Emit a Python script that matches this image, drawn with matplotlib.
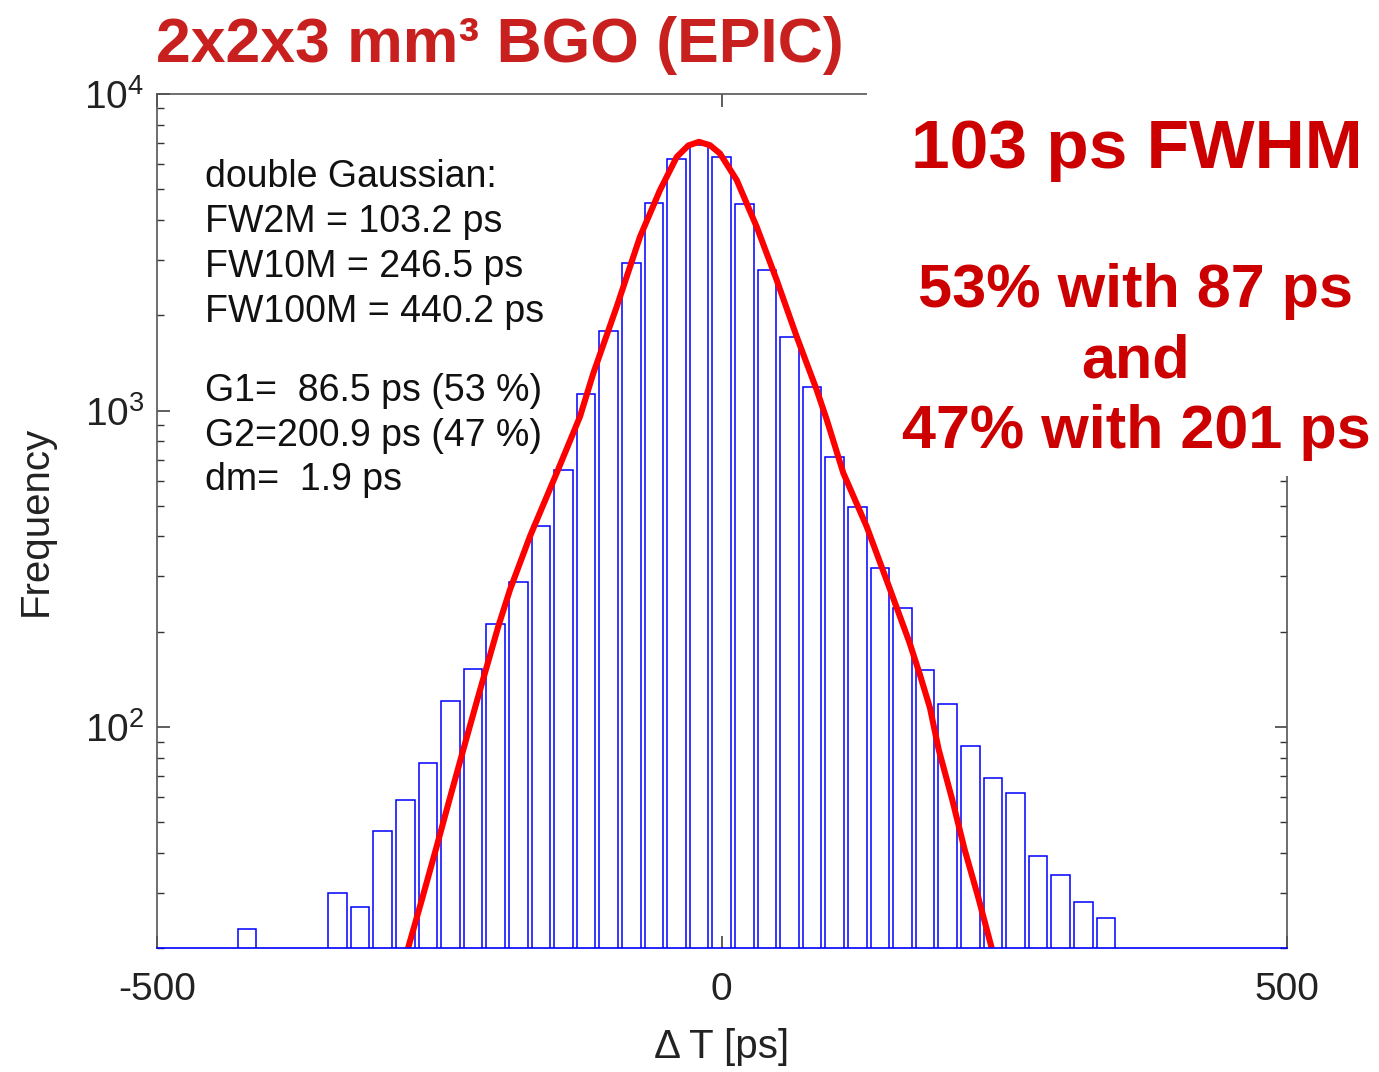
import numpy as np
import matplotlib
matplotlib.use('Agg')
import matplotlib.pyplot as plt
from matplotlib.patches import Rectangle
from matplotlib.ticker import LogLocator, NullFormatter

plt.rcParams['font.family'] = ['Liberation Sans', 'DejaVu Sans']
plt.rcParams['mathtext.fontset'] = 'custom'
plt.rcParams['mathtext.rm'] = 'Liberation Sans'
plt.rcParams['mathtext.it'] = 'Liberation Sans:italic'
plt.rcParams['mathtext.bf'] = 'Liberation Sans:bold'
plt.rcParams['axes.unicode_minus'] = False

# histogram of time differences (ps), counts
bin_centers = [-420, -340, -320, -300, -280, -260, -240, -220, -200, -180,
               -160, -140, -120, -100, -80, -60, -40, -20,
               0, 20, 40, 60, 80, 100, 120, 140, 160, 180,
               200, 220, 240, 260, 280, 300, 320, 340]
counts = [23, 30, 27, 47, 59, 77, 121, 153, 212, 287,
          433, 647, 1129, 1788, 2915, 4540, 6240, 6900,
          6320, 4490, 2770, 1710, 1185, 713, 494, 318, 237, 151,
          118, 87, 69, 62, 39, 34, 28, 25]

# double Gaussian fit curve
fit_t = [-277.6, -265.2, -253, -240.9, -228.6, -216.3, -197.7, -187.3, -169.6,
         -146, -125.4, -113.6, -92.9, -72.3, -54.6, -39.8, -29.5, -20.1,
         -10.4, -1.5, 13.3, 31, 48.7, 66.4, 84.1, 93, 107.6, 128.3, 149,
         166.4, 175.5, 184.3, 192, 204, 215, 227, 239]
fit_v = [20, 28.6, 41, 59, 85, 122, 208, 272, 401,
         635, 957, 1312, 2128, 3540, 4970, 6325, 6877, 7060,
         6890, 6485, 5345, 3802, 2582, 1710, 1161, 935, 635, 430, 272,
         184, 146, 115, 85, 59, 41, 29, 20]

fit_info = ['double Gaussian:', 'FW2M = 103.2 ps', 'FW10M = 246.5 ps',
            'FW100M = 440.2 ps', 'G1=  86.5 ps (53 %)', 'G2=200.9 ps (47 %)',
            'dm=  1.9 ps']
title = '2x2x3 mm³ BGO (EPIC)'
summary = ['103 ps FWHM', '53% with 87 ps', 'and', '47% with 201 ps']

W, H = 1379, 1072
fig = plt.figure(figsize=(W / 100, H / 100), dpi=100)
fx = lambda px: px / W
fy = lambda py: 1 - py / H

ax = fig.add_axes([fx(156.7), fy(948.3), fx(1286.7) - fx(156.7), fy(94) - fy(948.3)])

ax.bar(bin_centers, counts, width=16.5, fill=False, edgecolor='#0000ff', linewidth=1.1)
ax.plot(fit_t, fit_v, color='#ff0000', linewidth=4.4, solid_capstyle='butt',
        solid_joinstyle='round')

ax.set_yscale('log', nonpositive='clip')
ax.set_xlim(-500, 500)
ax.set_ylim(20, 1e4)
ax.set_xticks([-500, 0, 500])
ax.set_xticklabels(['-500', '0', '500'])
ax.yaxis.set_major_locator(LogLocator(base=10, numticks=10))
ax.yaxis.set_minor_locator(LogLocator(base=10, subs=np.arange(2, 10), numticks=20))
ax.yaxis.set_minor_formatter(NullFormatter())

for s in ax.spines.values():
    s.set_color('#555555')
    s.set_linewidth(1.2)
ax.spines['bottom'].set_color('#0000ff')

ax.tick_params(which='both', direction='in', top=True, right=True,
               colors='#333333', labelcolor='#222222', labelsize=28)
ax.tick_params(which='major', length=9, width=1.1)
ax.tick_params(which='minor', length=5, width=1.0)
ax.tick_params(axis='x', pad=17)
ax.tick_params(axis='y', pad=9)

ax.set_xlabel('Δ T [ps]', fontsize=29, color='#222222')
ax.xaxis.set_label_coords(0.5, -0.093)
ax.set_ylabel('Frequency', fontsize=29, color='#222222')
ax.yaxis.set_label_coords(-0.09, 0.5)

baselines = [187, 232, 277, 322, 401, 446, 490]
for line, by in zip(fit_info, baselines):
    fig.text(fx(205), fy(by), line, fontsize=27, color='#111111', va='baseline', ha='left')

# white panel over the upper right corner of the axes box
fig.patches.append(Rectangle((fx(867), fy(476)), 1 - fx(867), fy(84) - fy(476),
                             transform=fig.transFigure, facecolor='white',
                             edgecolor='none', zorder=5))

fig.text(fx(500), fy(62), title, fontsize=45, fontweight='bold', color='#c8201e',
         ha='center', va='baseline', zorder=6)
fig.text(fx(1137), fy(168), summary[0], fontsize=50, fontweight='bold', color='#cc0000',
         ha='center', va='baseline', zorder=6)
for line, by in zip(summary[1:], [307, 377, 448]):
    fig.text(fx(1136), fy(by), line, fontsize=44, fontweight='bold', color='#cc0000',
             ha='center', va='baseline', zorder=6)

fig.savefig('out.png', dpi=100)
